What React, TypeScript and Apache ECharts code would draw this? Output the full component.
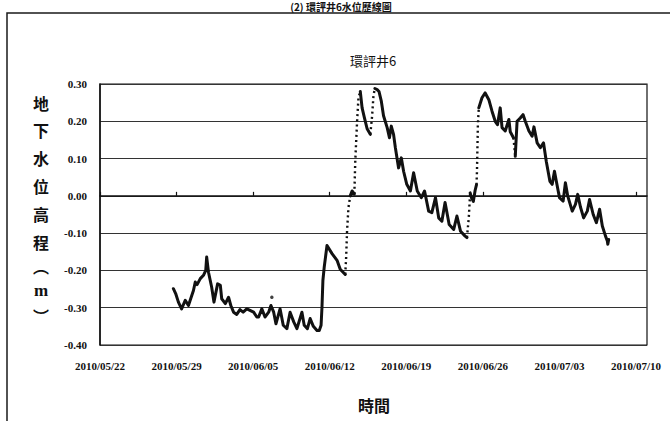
import React, { useEffect, useRef } from "react";
import * as echarts from "echarts";

// ---------- text ----------
const pageTitle = "(2) 環評井6水位歷線圖";
const wellName = "環評井6";
const yAxisTitleChars = ["地", "下", "水", "位", "高", "程", "︵", "m", "︶"];
const xAxisTitle = "時間";

// ---------- axes ----------
const axisStart = "2010-05-22 00:00";
const axisEnd = "2010-07-11 00:00";
const tickStepDays = 7;
const levelMin = -0.4;
const levelMax = 0.3;
const levelStep = 0.1;

// ---------- readings (groundwater level, m) ----------
const times = [
  "2010-05-28 17:00", "2010-05-28 22:00", "2010-05-29 04:00", "2010-05-29 11:00", "2010-05-29 19:00",
  "2010-05-30 02:00", "2010-05-30 13:00", "2010-05-30 17:00", "2010-05-30 21:00", "2010-05-31 04:00",
  "2010-05-31 11:00", "2010-05-31 16:00", "2010-05-31 18:00", "2010-05-31 22:00", "2010-06-01 05:00",
  "2010-06-01 10:00", "2010-06-01 18:00", "2010-06-02 00:00", "2010-06-02 03:00", "2010-06-02 11:00",
  "2010-06-02 18:00", "2010-06-02 23:00", "2010-06-03 05:00", "2010-06-03 12:00", "2010-06-03 19:00",
  "2010-06-04 02:00", "2010-06-04 10:00", "2010-06-04 17:00", "2010-06-05 01:00", "2010-06-05 08:00",
  "2010-06-05 12:00", "2010-06-05 19:00", "2010-06-06 02:00", "2010-06-06 10:00", "2010-06-06 15:00",
  "2010-06-06 21:00", "2010-06-07 02:00", "2010-06-07 11:00", "2010-06-07 18:00", "2010-06-08 02:00",
  "2010-06-08 09:00", "2010-06-08 17:00", "2010-06-09 00:00", "2010-06-09 11:00", "2010-06-09 16:00",
  "2010-06-09 23:00", "2010-06-10 05:00", "2010-06-10 12:00", "2010-06-10 20:00", "2010-06-11 01:00",
  "2010-06-11 05:00", "2010-06-11 07:00", "2010-06-11 09:00", "2010-06-11 12:00", "2010-06-11 18:00",
  "2010-06-12 05:00", "2010-06-12 16:00", "2010-06-12 23:00", "2010-06-13 10:00", "2010-06-13 12:00",
  "2010-06-13 14:00", "2010-06-13 17:00", "2010-06-13 21:00", "2010-06-14 01:00", "2010-06-14 06:00",
  "2010-06-14 08:00", "2010-06-14 12:00", "2010-06-14 15:00", "2010-06-14 19:00", "2010-06-14 23:00",
  "2010-06-15 04:00", "2010-06-15 10:00", "2010-06-15 17:00", "2010-06-15 21:00", "2010-06-16 00:00",
  "2010-06-16 03:00", "2010-06-16 08:00", "2010-06-16 12:00", "2010-06-16 17:00", "2010-06-16 22:00",
  "2010-06-17 06:00", "2010-06-17 11:00", "2010-06-17 15:00", "2010-06-17 20:00", "2010-06-18 00:00",
  "2010-06-18 07:00", "2010-06-18 13:00", "2010-06-18 18:00", "2010-06-19 01:00", "2010-06-19 09:00",
  "2010-06-19 16:00", "2010-06-20 00:00", "2010-06-20 09:00", "2010-06-20 16:00", "2010-06-21 01:00",
  "2010-06-21 08:00", "2010-06-21 16:00", "2010-06-21 23:00", "2010-06-22 06:00", "2010-06-22 13:00",
  "2010-06-22 22:00", "2010-06-23 08:00", "2010-06-23 15:00", "2010-06-23 23:00", "2010-06-24 09:00",
  "2010-06-24 13:00", "2010-06-24 17:00", "2010-06-24 20:00", "2010-06-24 23:00", "2010-06-25 03:00",
  "2010-06-25 07:00", "2010-06-25 10:00", "2010-06-25 11:00", "2010-06-25 13:00", "2010-06-25 15:00",
  "2010-06-25 22:00", "2010-06-26 05:00", "2010-06-26 13:00", "2010-06-26 20:00", "2010-06-27 03:00",
  "2010-06-27 08:00", "2010-06-27 14:00", "2010-06-27 18:00", "2010-06-28 01:00", "2010-06-28 09:00",
  "2010-06-28 12:00", "2010-06-28 19:00", "2010-06-28 23:00", "2010-06-29 03:00", "2010-06-29 10:00",
  "2010-06-29 16:00", "2010-06-29 21:00", "2010-06-30 05:00", "2010-06-30 12:00", "2010-06-30 16:00",
  "2010-06-30 23:00", "2010-07-01 06:00", "2010-07-01 13:00", "2010-07-01 19:00", "2010-07-02 03:00",
  "2010-07-02 08:00", "2010-07-02 13:00", "2010-07-02 17:00", "2010-07-03 00:00", "2010-07-03 08:00",
  "2010-07-03 13:00", "2010-07-03 18:00", "2010-07-04 04:00", "2010-07-04 11:00", "2010-07-04 16:00",
  "2010-07-04 22:00", "2010-07-05 05:00", "2010-07-05 13:00", "2010-07-05 18:00", "2010-07-06 02:00",
  "2010-07-06 09:00", "2010-07-06 16:00", "2010-07-06 22:00", "2010-07-07 05:00", "2010-07-07 09:00",
  "2010-07-07 10:00", "2010-07-07 12:00",
];

const levels = [
  -0.249, -0.262, -0.285, -0.303, -0.280,
  -0.294, -0.254, -0.231, -0.238, -0.222,
  -0.213, -0.200, -0.164, -0.205, -0.245,
  -0.285, -0.236, -0.240, -0.276, -0.289,
  -0.272, -0.294, -0.312, -0.318, -0.305,
  -0.312, -0.303, -0.307, -0.312, -0.325,
  -0.325, -0.303, -0.325, -0.312, -0.294,
  -0.312, -0.343, -0.303, -0.347, -0.356,
  -0.312, -0.338, -0.356, -0.312, -0.347,
  -0.356, -0.329, -0.350, -0.361, -0.361,
  -0.347, -0.298, -0.227, -0.190, -0.133,
  -0.155, -0.173, -0.197, -0.211, -0.165,
  -0.094, -0.032, 0.000, 0.013, 0.005,
  0.093, 0.200, 0.263, 0.280, 0.236,
  0.210, 0.180, 0.165, 0.215, 0.270,
  0.288, 0.285, 0.280, 0.255, 0.215,
  0.183, 0.156, 0.187, 0.165, 0.129,
  0.075, 0.102, 0.066, 0.031, 0.013,
  0.062, 0.013, -0.005, 0.013, -0.041,
  -0.045, -0.005, -0.059, -0.068, -0.018,
  -0.077, -0.090, -0.054, -0.095, -0.108,
  -0.112, -0.059, 0.008, -0.005, -0.015,
  0.015, 0.030, 0.066, 0.191, 0.236,
  0.263, 0.276, 0.258, 0.227, 0.200,
  0.191, 0.236, 0.183, 0.174, 0.205,
  0.172, 0.156, 0.106, 0.200, 0.209,
  0.218, 0.200, 0.174, 0.160, 0.185,
  0.142, 0.129, 0.142, 0.093, 0.039,
  0.031, 0.066, 0.040, -0.005, -0.014,
  0.035, 0.000, -0.041, -0.023, 0.004,
  -0.030, -0.059, -0.041, -0.010, -0.050,
  -0.072, -0.036, -0.081, -0.108, -0.121,
  -0.130, -0.117,
];

// spans where readings were sparse during rapid change (drawn as separate dots)
const rapidChangeSpans: [string, string][] = [
  ["2010-06-13 10:00", "2010-06-13 21:00"],
  ["2010-06-14 06:00", "2010-06-14 19:00"],
  ["2010-06-15 17:00", "2010-06-16 03:00"],
  ["2010-06-24 13:00", "2010-06-24 20:00"],
  ["2010-06-25 10:00", "2010-06-25 15:00"],
  ["2010-06-28 19:00", "2010-06-28 23:00"],
];

// isolated stray reading
const strayTimes = ["2010-06-06 17:00"];
const strayLevels = [-0.272];

// ---------- helpers ----------
const DAY = 86400000;
function toMs(s: string): number {
  const [d, t] = s.split(" ");
  const [y, m, dd] = d.split("-").map(Number);
  const [h, mi] = (t || "0:0").split(":").map(Number);
  return Date.UTC(y, m - 1, dd, h, mi);
}
const baseMs = toMs(axisStart);
const toDay = (s: string) => (toMs(s) - baseMs) / DAY;
const pad = (n: number) => (n < 10 ? "0" + n : "" + n);
function dayLabel(v: number): string {
  const d = new Date(baseMs + Math.round(v) * DAY);
  return `${d.getUTCFullYear()}/${pad(d.getUTCMonth() + 1)}/${pad(d.getUTCDate())}`;
}

export default function App() {
  const ref = useRef<HTMLDivElement>(null);

  useEffect(() => {
    if (!ref.current) return;
    const chart = echarts.init(ref.current, undefined, { renderer: "svg" });

    const xs = times.map(toDay);
    const spans = rapidChangeSpans.map(([a, b]) => [toDay(a), toDay(b)]);
    const isRapid = (i: number) =>
      spans.some(([a, b]) => xs[i] >= a - 1e-9 && xs[i + 1] <= b + 1e-9);

    type Seg = { rapid: boolean; pts: [number, number][] };
    const segs: Seg[] = [];
    let cur: Seg | null = null;
    for (let i = 0; i < xs.length - 1; i++) {
      const r = isRapid(i);
      if (!cur || cur.rapid !== r) {
        cur = { rapid: r, pts: [[xs[i], levels[i]]] };
        segs.push(cur);
      }
      cur.pts.push([xs[i + 1], levels[i + 1]]);
    }

    const lineSeries = segs.map((s) => ({
      type: "line",
      data: s.pts,
      showSymbol: false,
      silent: true,
      lineStyle: s.rapid
        ? { color: "#111", width: 2.4, type: [2, 3.2], cap: "butt" }
        : { color: "#111", width: 3, type: "solid", join: "round", cap: "round" },
      z: 3,
    }));

    const yCharPos = [103, 130, 158, 186, 214, 242, 266, 290, 316];

    chart.setOption({
      animation: false,
      backgroundColor: "#ffffff",
      grid: {
        left: 100,
        right: 23,
        top: 84,
        bottom: 76,
        show: true,
        borderColor: "#111",
        borderWidth: 1.2,
        backgroundColor: "transparent",
      },
      xAxis: {
        type: "value",
        min: 0,
        max: toDay(axisEnd),
        interval: tickStepDays,
        axisLine: { show: true, lineStyle: { color: "#111", width: 1.5 } },
        axisTick: { show: true, inside: true, length: 4, lineStyle: { color: "#111", width: 1.2 } },
        splitLine: { show: false },
        axisLabel: {
          showMaxLabel: false,
          margin: 15,
          color: "#111",
          fontFamily: "Liberation Serif",
          fontWeight: "bold",
          fontSize: 11,
          formatter: (v: number) => dayLabel(v),
        },
      },
      yAxis: {
        type: "value",
        min: levelMin,
        max: levelMax,
        interval: levelStep,
        axisLine: { show: true, lineStyle: { color: "#111", width: 1.5 } },
        axisTick: { show: false },
        splitLine: { show: true, lineStyle: { color: "#333", width: 1.2 } },
        axisLabel: {
          margin: 13,
          color: "#111",
          fontFamily: "Liberation Serif",
          fontWeight: "bold",
          fontSize: 11,
          formatter: (v: number) => v.toFixed(2),
        },
      },
      graphic: [
        {
          type: "rect",
          shape: { x: 7, y: 13, width: 720, height: 500 },
          style: { fill: "none", stroke: "#1a1a1a", lineWidth: 1.5 },
          silent: true,
        },
        {
          type: "text",
          x: 341,
          y: 1,
          style: {
            text: pageTitle,
            align: "center",
            verticalAlign: "top",
            fontFamily: "Noto Sans CJK TC",
            fontWeight: "bold",
            fontSize: 10,
            lineHeight: 11,
            fill: "#111",
          },
          silent: true,
        },
        {
          type: "text",
          x: 373,
          y: 60,
          style: {
            text: wellName,
            align: "center",
            verticalAlign: "middle",
            fontFamily: "Noto Sans CJK TC",
            fontSize: 13,
            fill: "#111",
          },
          silent: true,
        },
        ...yAxisTitleChars.map((c, i) => ({
          type: "text",
          x: 41,
          y: yCharPos[i],
          style: {
            text: c,
            align: "center",
            verticalAlign: "middle",
            fontFamily: c === "m" ? "Liberation Serif" : "Noto Sans CJK TC",
            fontWeight: "bold",
            fontSize: c === "m" ? 17 : 16,
            fill: "#111",
          },
          silent: true,
        })),
        {
          type: "text",
          x: 374,
          y: 405,
          style: {
            text: xAxisTitle,
            align: "center",
            verticalAlign: "middle",
            fontFamily: "Noto Sans CJK TC",
            fontWeight: "bold",
            fontSize: 16,
            fill: "#111",
          },
          silent: true,
        },
      ],
      series: [
        ...lineSeries,
        {
          type: "scatter",
          data: strayTimes.map((t, i) => [toDay(t), strayLevels[i]]),
          symbolSize: 3.5,
          itemStyle: { color: "#111" },
          silent: true,
          z: 3,
        },
      ],
    });

    return () => chart.dispose();
  }, []);

  return (
    <div
      ref={ref}
      style={{ position: "fixed", left: 0, top: 0, width: 670, height: 421, background: "#fff" }}
    />
  );
}
